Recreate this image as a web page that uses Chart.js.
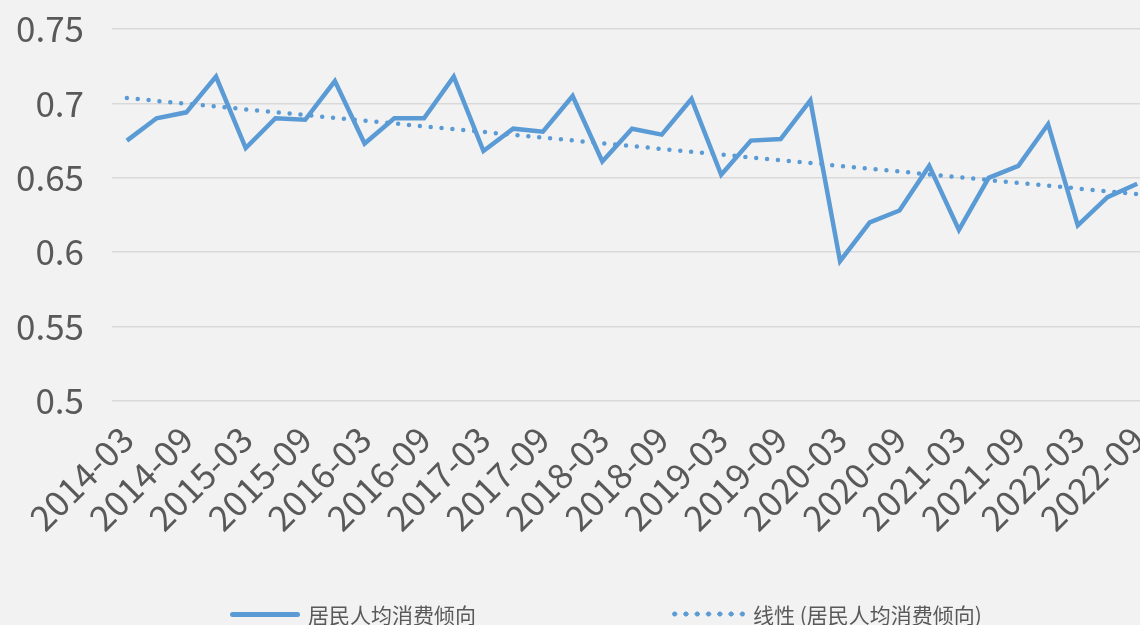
<!DOCTYPE html>
<html>
<head>
<meta charset="utf-8">
<script src="https://cdn.jsdelivr.net/npm/chart.js@4.4.1/dist/chart.umd.min.js"></script>
<style>
    html, body { margin: 0; padding: 0; background: #F2F2F2; overflow: hidden; }
    #wrap { position: relative; width: 1176px; height: 625px; }
    .legend-item { position: absolute; top: 599px; display: flex; align-items: center;
        font-family: "Noto Sans CJK SC", sans-serif; font-size: 21px; color: #595959; white-space: nowrap; }
    .swatch-line { width: 70px; height: 5px; border-radius: 3px; background: #5B9BD5; margin-right: 8px; }
    .swatch-dots { width: 73px; height: 6px; margin-right: 8px;
        background-image: radial-gradient(circle, #5B9BD5 2.3px, transparent 2.8px);
        background-size: 11.3px 6px; background-position: -3px 0; }
</style>
</head>
<body>
<div id="wrap">
    <canvas id="consumeChart"></canvas>
    <div class="legend-item" style="left:230px"><span class="swatch-line"></span><span id="legendMain"></span></div>
    <div class="legend-item" style="left:672px"><span class="swatch-dots"></span><span id="legendTrend"></span></div>
</div>
<script>
// Quarter labels (every quarter, only 03/09 are shown on the axis)
const quarters = [
    "2014-03", "2014-06", "2014-09", "2014-12",
    "2015-03", "2015-06", "2015-09", "2015-12",
    "2016-03", "2016-06", "2016-09", "2016-12",
    "2017-03", "2017-06", "2017-09", "2017-12",
    "2018-03", "2018-06", "2018-09", "2018-12",
    "2019-03", "2019-06", "2019-09", "2019-12",
    "2020-03", "2020-06", "2020-09", "2020-12",
    "2021-03", "2021-06", "2021-09", "2021-12",
    "2022-03", "2022-06", "2022-09"
];

// 居民人均消费倾向
const propensity = [
    0.675, 0.690, 0.694, 0.718,
    0.670, 0.690, 0.689, 0.715,
    0.673, 0.690, 0.690, 0.718,
    0.668, 0.683, 0.681, 0.705,
    0.661, 0.683, 0.679, 0.703,
    0.652, 0.675, 0.676, 0.702,
    0.594, 0.620, 0.628, 0.658,
    0.615, 0.650, 0.658, 0.686,
    0.618, 0.637, 0.646
];

// linear trend line: start and end values
const trendStart = 0.7036;
const trendEnd = 0.6390;

const yTicks = [0.5, 0.55, 0.6, 0.65, 0.7, 0.75];

const seriesName = "居民人均消费倾向";
const trendName = "线性 (居民人均消费倾向)";

document.addEventListener("DOMContentLoaded", function() {
    document.getElementById("legendMain").innerText = seriesName;
    document.getElementById("legendTrend").innerText = trendName;

    // trend dataset only has first and last points, the line spans the gap
    const trendData = quarters.map((q, i) => {
        if (i === 0) return trendStart;
        if (i === quarters.length - 1) return trendEnd;
        return null;
    });

    const tickFont = { family: "'Noto Sans CJK SC', sans-serif", size: 35 };

    const ctx = document.getElementById("consumeChart").getContext("2d");
    new Chart(ctx, {
        type: 'line',
        data: {
            labels: quarters,
            datasets: [
                {
                    label: trendName,
                    data: trendData,
                    spanGaps: true,
                    borderColor: '#5B9BD5',
                    borderWidth: 4.5,
                    borderDash: [0, 10.9],
                    borderCapStyle: 'round',
                    pointRadius: 0,
                    order: 0
                },
                {
                    label: seriesName,
                    data: propensity,
                    borderColor: '#5B9BD5',
                    borderWidth: 4.5,
                    pointRadius: 0,
                    tension: 0,
                    order: 1
                }
            ]
        },
        options: {
            responsive: true,
            maintainAspectRatio: false,
            animation: false,
            layout: { padding: { top: 29, right: 5, left: 0, bottom: 0 } },
            plugins: {
                legend: { display: false },
                tooltip: { enabled: false }
            },
            scales: {
                x: {
                    offset: true,
                    grid: { display: false },
                    border: { display: false },
                    ticks: {
                        autoSkip: false,
                        maxRotation: 45,
                        minRotation: 45,
                        color: '#595959',
                        font: tickFont,
                        padding: 9,
                        callback: function(value, index) {
                            return index % 2 === 0 ? this.getLabelForValue(value) : '';
                        }
                    },
                    afterFit: function(scale) { scale.height = 224; }
                },
                y: {
                    min: yTicks[0],
                    max: yTicks[yTicks.length - 1],
                    afterBuildTicks: function(scale) {
                        scale.ticks = yTicks.map(v => ({ value: v }));
                    },
                    grid: { color: '#D9D9D9', lineWidth: 1.5, drawTicks: false },
                    border: { display: false },
                    ticks: {
                        color: '#595959',
                        font: tickFont,
                        padding: 28,
                        callback: function(value) { return String(Number(value.toFixed(2))); }
                    },
                    afterFit: function(scale) {
                        scale.width = 112;
                        scale.paddingTop = 0;
                        scale.paddingBottom = 0;
                    }
                }
            }
        }
    });
});
</script>
</body>
</html>
